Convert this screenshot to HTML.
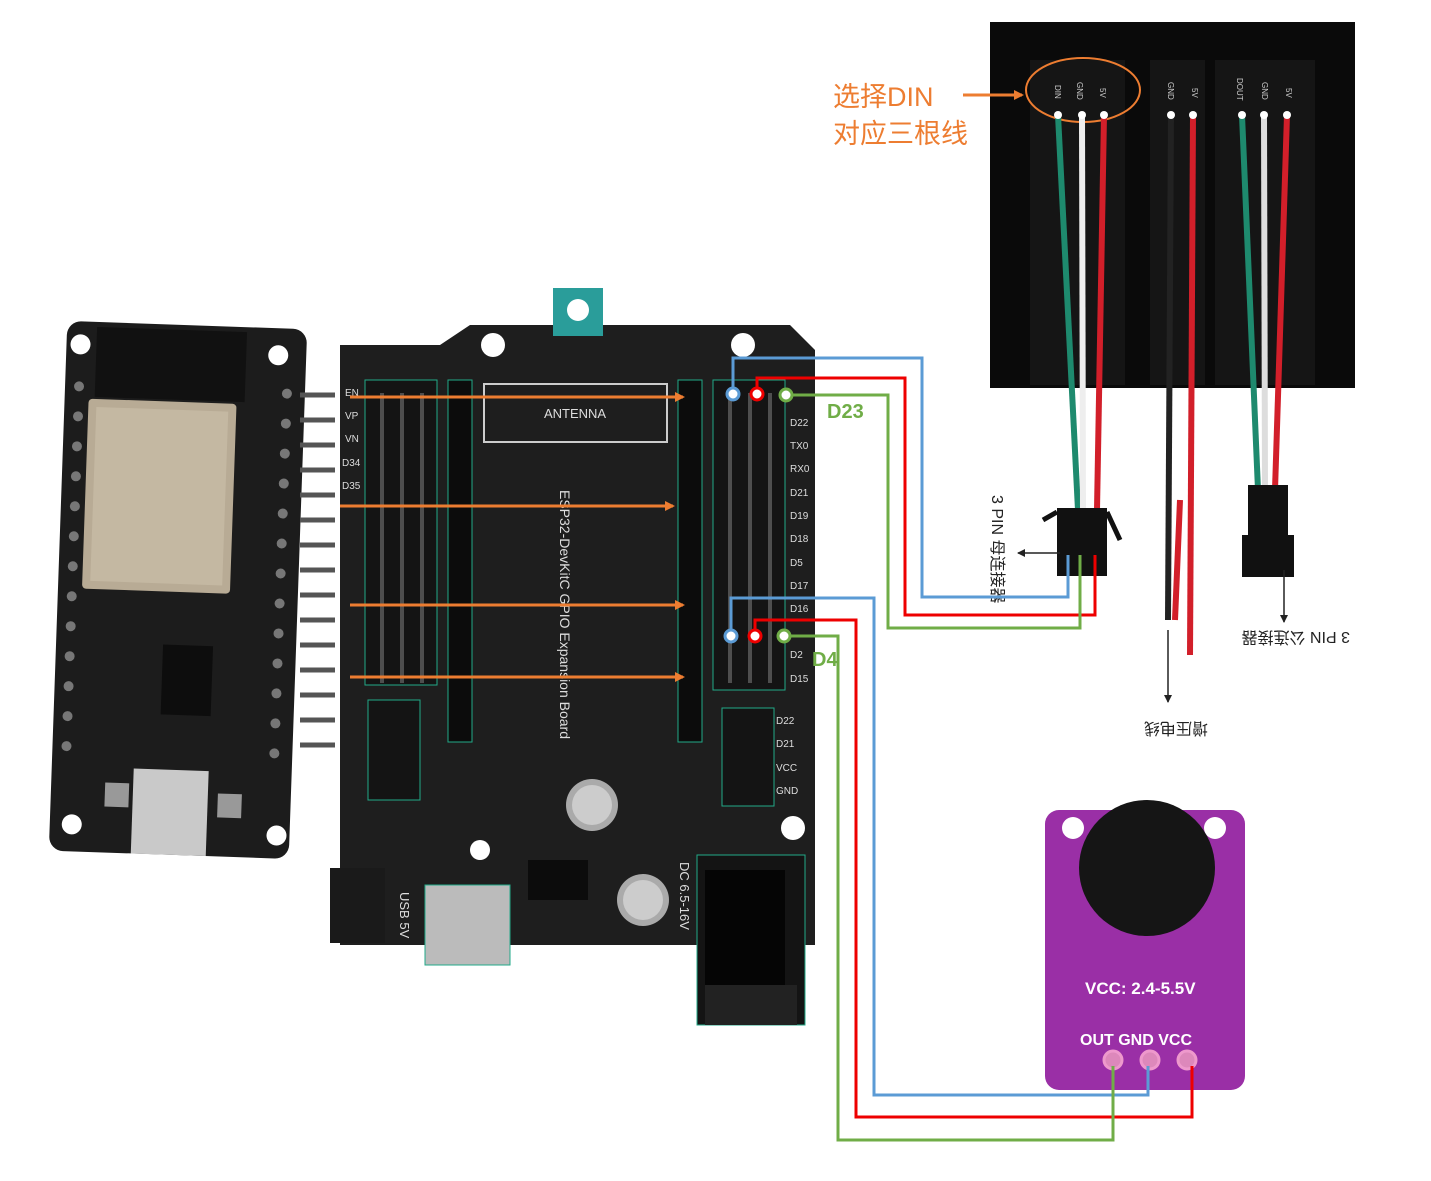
<!DOCTYPE html>
<html><head><meta charset="utf-8"><style>
html,body{margin:0;padding:0;background:#fff;}
svg{display:block;}
text{font-family:"Liberation Sans","Noto Sans CJK SC",sans-serif;}
</style></head><body>
<svg width="1431" height="1181" viewBox="0 0 1431 1181" xmlns="http://www.w3.org/2000/svg">
<rect width="1431" height="1181" fill="#fff"/>
<defs>
<marker id="ao" markerWidth="10" markerHeight="10" refX="8" refY="5" orient="auto" markerUnits="userSpaceOnUse"><path d="M0,0 L10,5 L0,10 z" fill="#ed7d31"/></marker>
<marker id="ak" markerWidth="8" markerHeight="8" refX="7" refY="4" orient="auto" markerUnits="userSpaceOnUse"><path d="M0,0 L8,4 L0,8 z" fill="#222"/></marker>
</defs>

<!-- ESP32 board -->
<g transform="rotate(2 180 590)">
<rect x="58" y="325" width="240" height="530" rx="14" fill="#1c1c1c"/>
<rect x="88" y="330" width="150" height="70" fill="#111"/>
<rect x="82" y="402" width="148" height="190" rx="4" fill="#b8ab95"/>
<rect x="90" y="410" width="132" height="174" fill="#c4b8a2"/>
<circle cx="72" cy="348" r="10" fill="#fff"/><circle cx="270" cy="352" r="10" fill="#fff"/>
<circle cx="80" cy="828" r="10" fill="#fff"/><circle cx="285" cy="832" r="10" fill="#fff"/>
<g fill="#777">
<circle cx="72" cy="390" r="5"/><circle cx="72" cy="420" r="5"/><circle cx="72" cy="450" r="5"/><circle cx="72" cy="480" r="5"/><circle cx="72" cy="510" r="5"/><circle cx="72" cy="540" r="5"/><circle cx="72" cy="570" r="5"/><circle cx="72" cy="600" r="5"/><circle cx="72" cy="630" r="5"/><circle cx="72" cy="660" r="5"/><circle cx="72" cy="690" r="5"/><circle cx="72" cy="720" r="5"/><circle cx="72" cy="750" r="5"/>
<circle cx="280" cy="390" r="5"/><circle cx="280" cy="420" r="5"/><circle cx="280" cy="450" r="5"/><circle cx="280" cy="480" r="5"/><circle cx="280" cy="510" r="5"/><circle cx="280" cy="540" r="5"/><circle cx="280" cy="570" r="5"/><circle cx="280" cy="600" r="5"/><circle cx="280" cy="630" r="5"/><circle cx="280" cy="660" r="5"/><circle cx="280" cy="690" r="5"/><circle cx="280" cy="720" r="5"/><circle cx="280" cy="750" r="5"/>
</g>
<rect x="165" y="645" width="50" height="70" fill="#0d0d0d"/>
<rect x="140" y="770" width="75" height="85" fill="#c9c9c9"/>
<rect x="112" y="785" width="24" height="24" fill="#999"/><rect x="225" y="792" width="24" height="24" fill="#999"/>
</g>
<g stroke="#555" stroke-width="5">
<line x1="300" y1="395" x2="335" y2="395"/><line x1="300" y1="420" x2="335" y2="420"/><line x1="300" y1="445" x2="335" y2="445"/><line x1="300" y1="470" x2="335" y2="470"/><line x1="300" y1="495" x2="335" y2="495"/><line x1="300" y1="520" x2="335" y2="520"/><line x1="300" y1="545" x2="335" y2="545"/><line x1="300" y1="570" x2="335" y2="570"/><line x1="300" y1="595" x2="335" y2="595"/><line x1="300" y1="620" x2="335" y2="620"/><line x1="300" y1="645" x2="335" y2="645"/><line x1="300" y1="670" x2="335" y2="670"/><line x1="300" y1="695" x2="335" y2="695"/><line x1="300" y1="720" x2="335" y2="720"/><line x1="300" y1="745" x2="335" y2="745"/>
</g>

<!-- Expansion board -->
<path d="M340,345 L440,345 L470,325 L790,325 L815,350 L815,945 L340,945 Z" fill="#1e1e1e"/>
<rect x="330" y="868" width="55" height="75" fill="#1a1a1a"/>
<rect x="553" y="288" width="50" height="48" fill="#2a9d9a"/>
<circle cx="578" cy="310" r="11" fill="#fff"/>
<circle cx="493" cy="345" r="12" fill="#fff"/><circle cx="743" cy="345" r="12" fill="#fff"/><circle cx="793" cy="828" r="12" fill="#fff"/><circle cx="480" cy="850" r="10" fill="#fff"/>
<rect x="484" y="384" width="183" height="58" fill="none" stroke="#ccc" stroke-width="2"/>
<text x="575" y="418" font-size="13" fill="#ddd" text-anchor="middle">ANTENNA</text>
<text transform="translate(560,490) rotate(90)" font-size="14" fill="#ddd">ESP32-DevKitC GPIO Expansion Board</text>
<rect x="448" y="380" width="24" height="362" fill="#0c0c0c" stroke="#2a8" stroke-width="1"/>
<rect x="678" y="380" width="24" height="362" fill="#0c0c0c" stroke="#2a8" stroke-width="1"/>
<rect x="365" y="380" width="72" height="305" fill="#141414" stroke="#2a8" stroke-width="1"/>
<rect x="713" y="380" width="72" height="310" fill="#141414" stroke="#2a8" stroke-width="1"/>
<g fill="#bbb">
<rect x="380" y="393" width="4" height="290" opacity="0.35"/><rect x="400" y="393" width="4" height="290" opacity="0.35"/><rect x="420" y="393" width="4" height="290" opacity="0.35"/>
<rect x="728" y="393" width="4" height="290" opacity="0.35"/><rect x="748" y="393" width="4" height="290" opacity="0.35"/><rect x="768" y="393" width="4" height="290" opacity="0.35"/>
</g>
<g font-size="10" fill="#ddd">
<text x="790" y="426">D22</text><text x="790" y="449">TX0</text><text x="790" y="472">RX0</text><text x="790" y="496">D21</text><text x="790" y="519">D19</text><text x="790" y="542">D18</text><text x="790" y="566">D5</text><text x="790" y="589">D17</text><text x="790" y="612">D16</text><text x="790" y="658">D2</text><text x="790" y="682">D15</text>
<text x="776" y="724">D22</text><text x="776" y="747">D21</text><text x="776" y="771">VCC</text><text x="776" y="794">GND</text>
<text x="345" y="396">EN</text><text x="345" y="419">VP</text><text x="345" y="442">VN</text><text x="342" y="466">D34</text><text x="342" y="489">D35</text>
</g>
<rect x="722" y="708" width="52" height="98" fill="#141414" stroke="#2a8" stroke-width="1"/>
<rect x="368" y="700" width="52" height="100" fill="#141414" stroke="#2a8" stroke-width="1"/>
<circle cx="592" cy="805" r="26" fill="#aaa"/><circle cx="592" cy="805" r="20" fill="#ccc"/>
<circle cx="643" cy="900" r="26" fill="#aaa"/><circle cx="643" cy="900" r="20" fill="#ccc"/>
<rect x="425" y="885" width="85" height="80" fill="#bbb" stroke="#2a8"/>
<rect x="528" y="860" width="60" height="40" fill="#0c0c0c"/>
<rect x="697" y="855" width="108" height="170" fill="#141414" stroke="#2a8"/>
<rect x="705" y="870" width="80" height="150" fill="#050505"/>
<rect x="705" y="985" width="92" height="40" fill="#222"/>
<text transform="translate(680,862) rotate(90)" font-size="13" fill="#ddd">DC 6.5-16V</text>
<text transform="translate(400,892) rotate(90)" font-size="13" fill="#ddd">USB 5V</text>

<!-- LED panel -->
<rect x="990" y="22" width="365" height="366" fill="#0a0a0a"/>
<rect x="1030" y="60" width="95" height="325" fill="#151515"/>
<rect x="1150" y="60" width="55" height="325" fill="#151515"/>
<rect x="1215" y="60" width="100" height="325" fill="#151515"/>
<g font-size="8" fill="#ccc">
<text transform="translate(1055,85) rotate(90)">DIN</text><text transform="translate(1077,82) rotate(90)">GND</text><text transform="translate(1100,88) rotate(90)">5V</text>
<text transform="translate(1168,82) rotate(90)">GND</text><text transform="translate(1192,88) rotate(90)">5V</text>
<text transform="translate(1237,78) rotate(90)">DOUT</text><text transform="translate(1262,82) rotate(90)">GND</text><text transform="translate(1286,88) rotate(90)">5V</text>
</g>
<ellipse cx="1083" cy="90" rx="57" ry="32" fill="none" stroke="#ed7d31" stroke-width="2"/>
<!-- panel wires -->
<g stroke-width="6" fill="none">
<path d="M1058,115 L1078,510" stroke="#1e8a6e"/>
<path d="M1082,115 L1083,510" stroke="#eee"/>
<path d="M1104,115 L1097,510" stroke="#d21f2a"/>
<path d="M1171,115 L1168,620" stroke="#222"/>
<path d="M1193,115 L1190,655" stroke="#d21f2a"/>
<path d="M1242,115 L1258,490" stroke="#1e8a6e"/>
<path d="M1264,115 L1265,490" stroke="#ddd"/>
<path d="M1287,115 L1275,490" stroke="#d21f2a"/>
<path d="M1180,500 L1175,620" stroke="#d21f2a"/>
</g>
<g fill="#fff"><circle cx="1058" cy="115" r="4"/><circle cx="1082" cy="115" r="4"/><circle cx="1104" cy="115" r="4"/><circle cx="1171" cy="115" r="4"/><circle cx="1193" cy="115" r="4"/><circle cx="1242" cy="115" r="4"/><circle cx="1264" cy="115" r="4"/><circle cx="1287" cy="115" r="4"/></g>
<rect x="1057" y="508" width="50" height="68" fill="#111"/>
<path d="M1043,520 L1057,512 M1107,512 L1120,540" stroke="#111" stroke-width="5"/>
<rect x="1248" y="485" width="40" height="60" fill="#111"/>
<rect x="1242" y="535" width="52" height="42" fill="#111"/>
<line x1="1060" y1="553" x2="1018" y2="553" stroke="#222" stroke-width="1.5" marker-end="url(#ak)"/>
<line x1="1284" y1="570" x2="1284" y2="622" stroke="#222" stroke-width="1.5" marker-end="url(#ak)"/>
<line x1="1168" y1="630" x2="1168" y2="702" stroke="#222" stroke-width="1.5" marker-end="url(#ak)"/>
<text transform="translate(992,495) rotate(90)" font-size="16" fill="#222">3 PIN 母连接器</text>
<text transform="translate(1350,632) rotate(180)" font-size="16" fill="#222">3 PIN 公连接器</text>
<text transform="translate(1208,723) rotate(180)" font-size="16" fill="#222">增压电线</text>

<!-- orange labels -->
<text x="833" y="106" font-size="27" fill="#ed7d31">选择DIN</text>
<text x="833" y="143" font-size="27" fill="#ed7d31">对应三根线</text>
<line x1="963" y1="95" x2="1022" y2="95" stroke="#ed7d31" stroke-width="3" marker-end="url(#ao)"/>

<!-- mic module -->
<rect x="1045" y="810" width="200" height="280" rx="14" fill="#9a2fa6"/>
<circle cx="1073" cy="828" r="11" fill="#fff"/><circle cx="1215" cy="828" r="11" fill="#fff"/>
<circle cx="1147" cy="868" r="68" fill="#151515"/>
<text x="1085" y="994" font-size="17" font-weight="bold" fill="#fff">VCC: 2.4-5.5V</text>
<text x="1080" y="1045" font-size="16" font-weight="bold" fill="#fff">OUT GND VCC</text>
<g fill="#d8b" stroke="#e9c" stroke-width="3"><circle cx="1113" cy="1060" r="9"/><circle cx="1150" cy="1060" r="9"/><circle cx="1187" cy="1060" r="9"/></g>

<!-- orange arrows -->
<g stroke="#ed7d31" stroke-width="3">
<line x1="350" y1="397" x2="683" y2="397" marker-end="url(#ao)"/>
<line x1="340" y1="506" x2="673" y2="506" marker-end="url(#ao)"/>
<line x1="350" y1="605" x2="683" y2="605" marker-end="url(#ao)"/>
<line x1="350" y1="677" x2="683" y2="677" marker-end="url(#ao)"/>
</g>

<!-- wires -->
<g fill="none" stroke-width="3">
<polyline points="733,388 733,358 922,358 922,597 1068,597 1068,555" stroke="#5b9bd5"/>
<polyline points="757,388 757,378 905,378 905,615 1095,615 1095,555" stroke="#e00"/>
<polyline points="792,395 888,395 888,628 1080,628 1080,555" stroke="#70ad47"/>
<polyline points="731,630 731,598 874,598 874,1095 1148,1095 1148,1066" stroke="#5b9bd5"/>
<polyline points="755,630 755,620 856,620 856,1117 1192,1117 1192,1066" stroke="#e00"/>
<polyline points="790,636 838,636 838,1140 1113,1140 1113,1066" stroke="#70ad47"/>
</g>
<g fill="#fff" stroke-width="3">
<circle cx="733" cy="394" r="6" stroke="#5b9bd5"/><circle cx="757" cy="394" r="6" stroke="#e00"/><circle cx="786" cy="395" r="6" stroke="#70ad47"/>
<circle cx="731" cy="636" r="6" stroke="#5b9bd5"/><circle cx="755" cy="636" r="6" stroke="#e00"/><circle cx="784" cy="636" r="6" stroke="#70ad47"/>
</g>
<text x="827" y="418" font-size="20" font-weight="bold" fill="#70ad47">D23</text>
<text x="812" y="666" font-size="20" font-weight="bold" fill="#70ad47">D4</text>
</svg>
</body></html>
